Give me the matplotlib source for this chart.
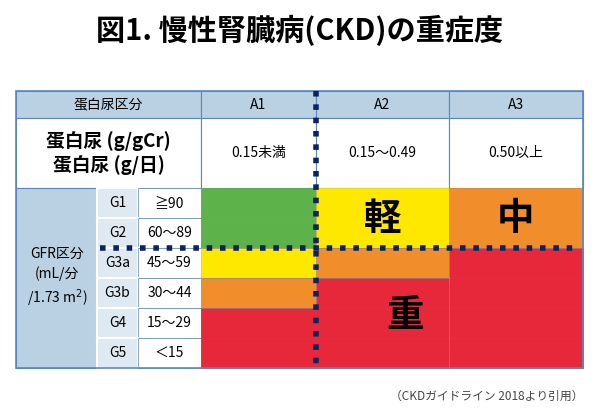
import matplotlib
matplotlib.use("Agg")
import matplotlib.pyplot as plt
from matplotlib.patches import Rectangle

plt.rcParams["font.family"] = ["Noto Sans CJK JP"]

title = "図1. 慢性腎臓病(CKD)の重症度"
source = "（CKDガイドライン 2018より引用）"
a_labels = ["A1", "A2", "A3"]
a_values = ["0.15未満", "0.15〜0.49", "0.50以上"]
g_labels = ["G1", "G2", "G3a", "G3b", "G4", "G5"]
g_ranges = ["≧90", "60〜89", "45〜59", "30〜44", "15〜29", "＜15"]
# risk level per (G row, A column): 0 green, 1 yellow, 2 orange, 3 red
risk = [[0, 1, 2], [0, 1, 2], [1, 2, 3], [2, 3, 3], [3, 3, 3], [3, 3, 3]]
severity = {"軽": (1, 0, 2), "中": (2, 0, 2), "重": (1.5, 2.5, 6)}  # (col center, row0, row1)

colors = ["#5db24a", "#ffe800", "#f18e2b", "#e6283a"]
hdr = "#b9d1e2"
light = "#dfe9f1"
edge = "#5b86c4"
navy = "#0d2260"

fig = plt.figure(figsize=(6, 4.15), dpi=100)
ax = fig.add_axes([0, 0, 1, 1])
ax.set_xlim(0, 600); ax.set_ylim(415, 0); ax.axis("off")

colx = [201, 316, 449, 583]
L, R, T = 16, 583, 91
hb, vb = 118, 188
rh = 30
rowy = [vb + i * rh for i in range(len(g_labels) + 1)]

def rect(x0, y0, x1, y1, fc, lw=0.8, ec=edge):
    ax.add_patch(Rectangle((x0, y0), x1 - x0, y1 - y0, fc=fc, ec=ec, lw=lw))

rect(L, T, colx[0], hb, hdr)
ax.text((L + colx[0]) / 2, (T + hb) / 2, "蛋白尿区分", ha="center", va="center", fontsize=10)
for i, a in enumerate(a_labels):
    rect(colx[i], T, colx[i + 1], hb, hdr)
    ax.text((colx[i] + colx[i + 1]) / 2, (T + hb) / 2, a, ha="center", va="center", fontsize=10)
rect(L, hb, colx[0], vb, "white")
ax.text((L + colx[0]) / 2, (hb + vb) / 2, "蛋白尿 (g/gCr)\n蛋白尿 (g/日)", ha="center",
        va="center", fontsize=13.5, fontweight="bold", linespacing=1.25)
for i, v in enumerate(a_values):
    rect(colx[i], hb, colx[i + 1], vb, "white")
    ax.text((colx[i] + colx[i + 1]) / 2, (hb + vb) / 2, v, ha="center", va="center", fontsize=10)
rect(L, vb, 97, rowy[-1], hdr)
ax.text(57, (vb + rowy[-1]) / 2, "GFR区分\n(mL/分\n/1.73 m$^2$)", ha="center", va="center",
        fontsize=10, linespacing=1.4)
for r, (g, rg) in enumerate(zip(g_labels, g_ranges)):
    y0, y1 = rowy[r], rowy[r + 1]
    rect(97, y0, 138, y1, light, ec="white", lw=1.5)
    rect(138, y0, colx[0], y1, "white", ec=edge, lw=0.5)
    ax.text(117.5, (y0 + y1) / 2, g, ha="center", va="center", fontsize=10)
    ax.text(169.5, (y0 + y1) / 2, rg, ha="center", va="center", fontsize=10)
    for c in range(3):
        ax.add_patch(Rectangle((colx[c], y0), colx[c + 1] - colx[c], rh,
                               fc=colors[risk[r][c]], ec=colors[risk[r][c]], lw=0.5))
for r in range(len(g_labels)):
    for c in range(3):
        if r + 1 < len(g_labels) and risk[r][c] != risk[r + 1][c]:
            ax.plot([colx[c], colx[c + 1]], [rowy[r + 1]] * 2, color="#888888", lw=0.5)
        if c + 1 < 3 and risk[r][c] != risk[r][c + 1] or c == 1:
            ax.plot([colx[c + 1]] * 2, [rowy[r], rowy[r + 1]], color="#999999", lw=0.4)
ax.add_patch(Rectangle((L, T), R - L, rowy[-1] - T, fc="none", ec=edge, lw=1.2))

for k, (cc, r0, r1) in severity.items():
    if cc == int(cc):
        x = (colx[int(cc)] + colx[int(cc) + 1]) / 2
    else:
        x = 405
    ax.text(x, rh * (r0 + r1) / 2 + vb, k, ha="center", va="center", fontsize=27, fontweight="bold")

ax.plot([316, 316], [T, rowy[-1]], color=navy, lw=4, ls=(0, (1, 1.4)), solid_capstyle="butt")
ax.plot([100, 580], [rowy[2], rowy[2]], color=navy, lw=4, ls=(0, (1, 1.4)), solid_capstyle="butt")

ax.text(300, 30, title, ha="center", va="center", fontsize=21, fontweight="bold")
ax.text(583, 396, source, ha="right", va="center", fontsize=8.5, color="#444444")

fig.savefig("out.png", dpi=100)
